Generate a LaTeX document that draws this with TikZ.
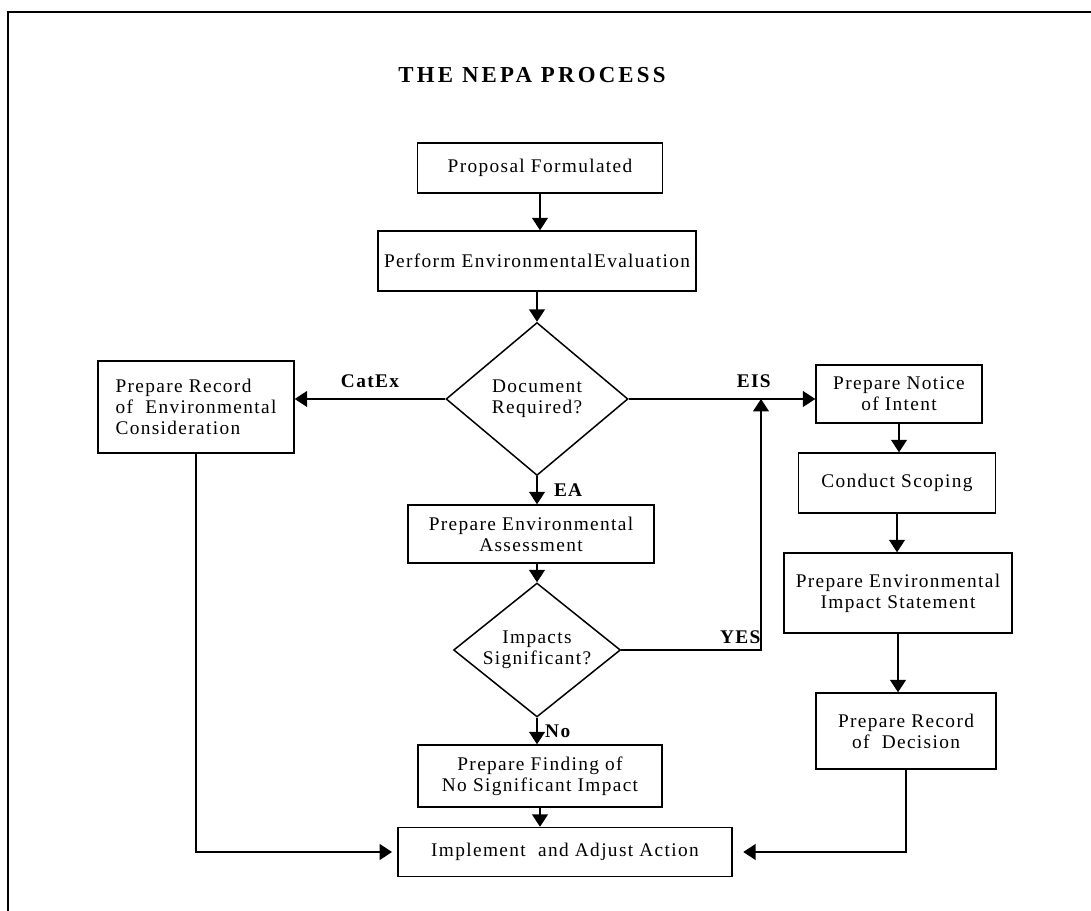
\documentclass[tikz,border=0pt]{standalone}
\usepackage{fontspec}
\setmainfont{Liberation Serif}[LetterSpace=7]
\newfontfamily\titlefont{Liberation Serif}[LetterSpace=14]
\usetikzlibrary{shapes.geometric,arrows.meta}

\tikzset{
	box/.style={draw, rectangle, line width=0.85pt, text centered, inner sep=2pt,
	font=\fontsize{11}{12}\selectfont},
	decision/.style={draw, diamond, aspect=1.2, inner sep=0pt, line width=0.85pt,
	text centered, font=\fontsize{11}{12}\selectfont},
	link/.style={-{Triangle[length=7pt,width=9pt]}, line width=0.7pt},
	tag/.style={font=\fontsize{11}{12}\selectfont\bfseries}
}

\begin{document}
\begin{tikzpicture}[x=0.02cm, y=-0.02cm]
			
			\useasboundingbox (0,0) rectangle (1091,911);
			
			%Page frame
			\draw[line width=1pt] (8,911) -- (8,12) -- (1091,12);
			
			%Title
			\node (title) at (532,75) [font=\fontsize{13}{15}\titlefont\bfseries]{THE NEPA PROCESS};
			
			%Proposal block
			\node (prop) at (540,168) [box, minimum width=4.9cm, minimum height=1cm]{Proposal Formulated};
			
			%Environmental evaluation
			\node (perf) at (537,261) [box, minimum width=6.36cm, minimum height=1.2cm]{Perform EnvironmentalEvaluation};
			
			%Document required decision
			\node (doc) at (537,399) [decision, minimum width=3.64cm, minimum height=3.06cm, align=center]{Document\\ Required?};
			
			%Record of environmental consideration
			\node (rec) at (196,407) [box, minimum width=3.92cm, minimum height=1.84cm, align=left]{Prepare Record\\ of\ \ Environmental\\ Consideration};
			
			%EIS branch
			\node (notice) at (899,394) [box, minimum width=3.32cm, minimum height=1.16cm, align=center]{Prepare Notice\\ of Intent};
			\node (scope) at (897,483) [box, minimum width=3.94cm, minimum height=1.2cm]{Conduct Scoping};
			\node (eisst) at (898,593) [box, minimum width=4.56cm, minimum height=1.6cm, align=center]{Prepare Environmental\\ Impact Statement};
			\node (rod) at (906,731) [box, minimum width=3.6cm, minimum height=1.52cm, align=center]{Prepare Record\\ of\ \ Decision};
			
			%EA branch
			\node (ea) at (531,534) [box, minimum width=4.92cm, minimum height=1.16cm, align=center]{Prepare Environmental\\ Assessment};
			\node (imp) at (537,650) [decision, minimum width=3.34cm, minimum height=2.68cm, align=center]{Impacts\\ Significant?};
			\node (fonsi) at (540,776) [box, minimum width=4.88cm, minimum height=1.24cm, align=center]{Prepare Finding of\\ No Significant Impact};
			
			%Final action
			\node (impl) at (565,852) [box, minimum width=6.68cm, minimum height=0.98cm]{Implement\ \ and Adjust Action};
			
			%Join point on the EIS line
			\coordinate (join) at (761,399);
			
			%Links among blocks
			\draw[link] (prop.south) -- (prop.south |- perf.north);
			\draw[link] (perf.south) -- (doc.north);
			\draw[link] (doc.west) -- (doc.west -| rec.east) node[tag, midway, above=3pt]{CatEx};
			\draw[link] (doc.east) -- (doc.east -| notice.west) node[tag, pos=0.67, above=3pt]{EIS};
			\draw[link] (doc.south) -- (doc.south |- ea.north) node[tag, midway, right=6pt]{EA};
			\draw[link] (ea.south -| imp.north) -- (imp.north);
			\draw[link] (imp.east) -- (imp.east -| join) node[tag, midway, above, xshift=28pt]{YES} -- (join);
			\draw[link] (imp.south) -- (imp.south |- fonsi.north) node[tag, midway, right=1pt]{No};
			\draw[link] (fonsi.south) -- (fonsi.south |- impl.north);
			\draw[link] (notice.south) -- (notice.south |- scope.north);
			\draw[link] (scope.south) -- (scope.south |- eisst.north);
			\draw[link] (eisst.south) -- (eisst.south |- rod.north);
			\draw[link, shorten >=3pt] (rec.south) |- (impl.west);
			\draw[link, shorten >=6pt] (rod.south) |- (impl.east);
			
\end{tikzpicture}
\end{document}
